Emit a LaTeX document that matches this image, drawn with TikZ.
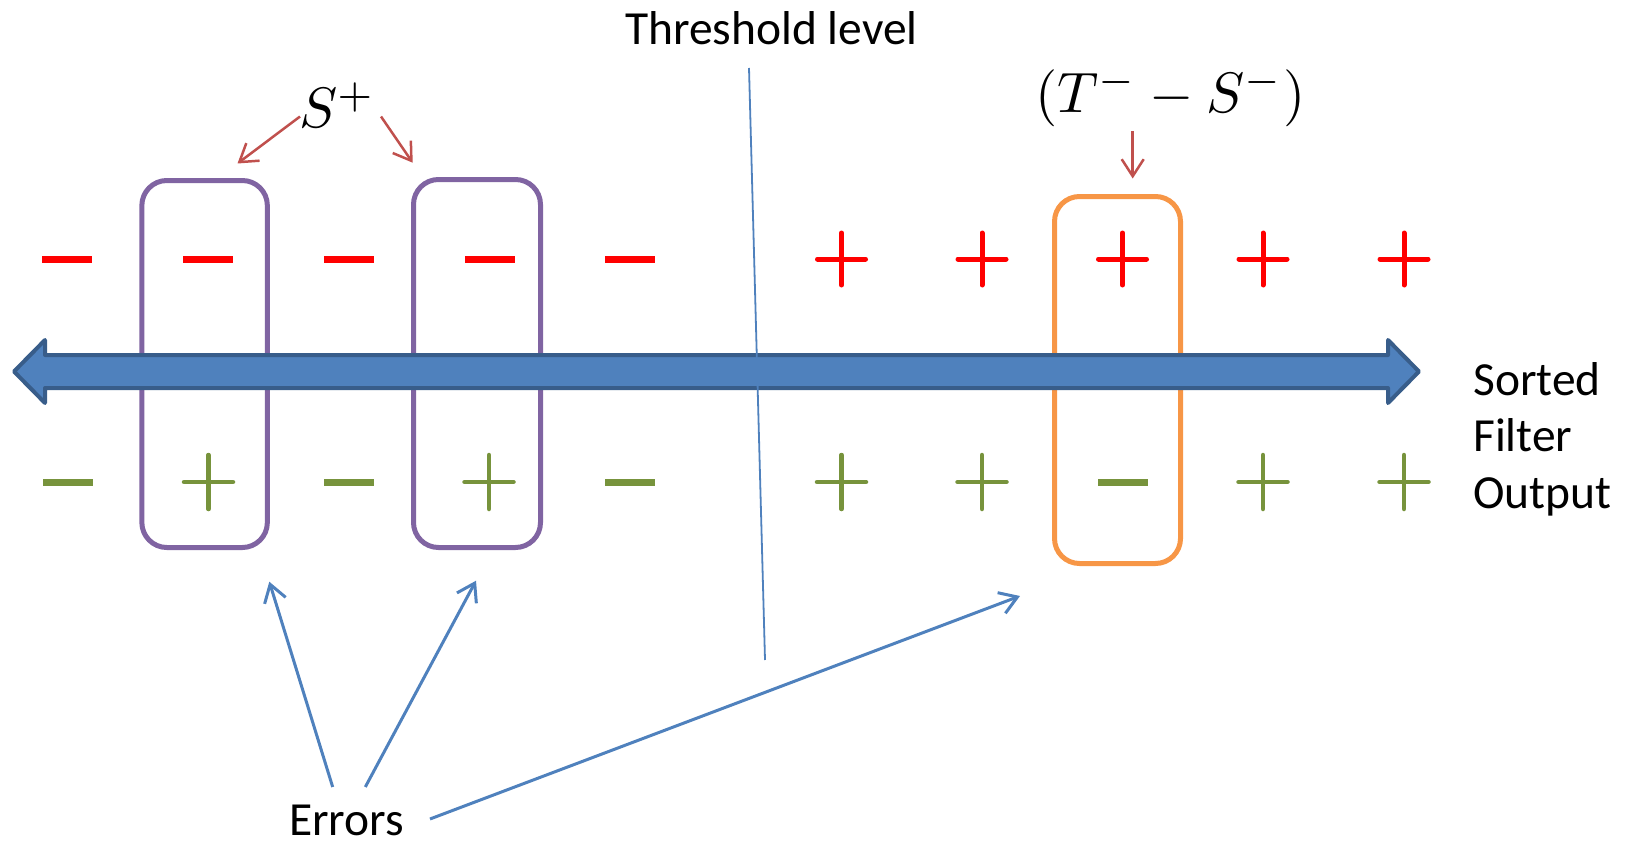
\documentclass[tikz,border=0pt]{standalone}
\usepackage{graphicx}
\usepackage[no-math]{fontspec}
\setmainfont{Carlito}
\usetikzlibrary{arrows.meta}
\definecolor{boxpurple}{HTML}{8064A2}
\definecolor{boxorange}{HTML}{F79646}
\definecolor{bandfill}{HTML}{4F81BD}
\definecolor{bandedge}{HTML}{385D8A}
\definecolor{arrred}{HTML}{C0504D}
\definecolor{arrblue}{HTML}{4F81BD}
\definecolor{signred}{HTML}{FF0000}
\definecolor{signgreen}{HTML}{77933C}
\tikzset{
  purplebox/.style={draw=boxpurple, line width=5pt, rounded corners=25pt, inner sep=0pt},
  orangebox/.style={draw=boxorange, line width=5pt, rounded corners=25pt, inner sep=0pt},
  label/.style={font=\fontsize{47.5}{56.5}\selectfont, inner sep=0pt, anchor=base west, text=black},
  mathlabel/.style={inner sep=0pt, anchor=base west},
  redarrow/.style={draw=arrred, line width=2.5pt, -{Straight Barb[length=17pt,width=22pt]}},
  bluearrow/.style={draw=arrblue, line width=3pt, -{Straight Barb[length=17pt,width=22pt]}},
  rminus/.pic={\fill[signred] (-25,-3.5) rectangle (25,3.5);},
  gminus/.pic={\fill[signgreen] (-25,-3.5) rectangle (25,3.5);},
  rplus/.pic={\draw[signred, line width=5pt, line cap=round] (-24,0) -- (24,0) (0,-26) -- (0,26);},
  gplus/.pic={\draw[signgreen, line width=4.5pt, line cap=round] (-24.5,0) -- (24.5,0) (0,-27) -- (0,27);}
}
\begin{document}
\begin{tikzpicture}[x=1pt,y=-1pt]
\useasboundingbox (0,0) rectangle (1633,848);
% boxes
\node[purplebox, minimum width=125.5pt, minimum height=367pt] (b1) at (204.6,364) {};
\node[purplebox, minimum width=127pt, minimum height=368pt] (b2) at (477,363.5) {};
\node[orangebox, minimum width=126pt, minimum height=367pt] (b3) at (1117.5,380) {};
% top row
\pic (t1) at (67,259.5) {rminus};
\pic (t2) at (208,259.5) {rminus};
\pic (t3) at (349,259.5) {rminus};
\pic (t4) at (490,259.5) {rminus};
\pic (t5) at (630,259.5) {rminus};
\pic (t6) at (841.5,259) {rplus};
\pic (t7) at (982,259) {rplus};
\pic (t8) at (1122.5,259) {rplus};
\pic (t9) at (1263,259) {rplus};
\pic (t10) at (1404,259) {rplus};
% bottom row
\pic (u1) at (68,482.5) {gminus};
\pic (u2) at (208.5,482) {gplus};
\pic (u3) at (349,482.5) {gminus};
\pic (u4) at (489,482) {gplus};
\pic (u5) at (630,482.5) {gminus};
\pic (u6) at (841.5,482) {gplus};
\pic (u7) at (982,482) {gplus};
\pic (u8) at (1123,482.5) {gminus};
\pic (u9) at (1263,482) {gplus};
\pic (u10) at (1404,482) {gplus};
% double block arrow
\filldraw[fill=bandfill, draw=bandedge, line width=4pt, line join=round]
  (14,371.5) -- (45,340) -- (45,355) -- (1388,355) -- (1388,340) -- (1419,371.5)
  -- (1388,403) -- (1388,388) -- (45,388) -- (45,403) -- cycle;
% threshold
\node[label] (thr) at (625,45) {Threshold level};
\coordinate (th1) at (749,68);
\coordinate (th2) at (765,660);
\draw[arrblue, line width=1.8pt] (th1) -- (th2);
% S+
\node[mathlabel] (splus) at (299,128) {\scalebox{5.7}{$S^{+}$}};
\coordinate (sa1) at (300,116.5);
\coordinate (sa2) at (381,116.5);
\coordinate (sb1) at (237.5,163.5);
\coordinate (sb2) at (412.7,162.7);
\draw[redarrow] (sa1) -- (sb1);
\draw[redarrow] (sa2) -- (sb2);
% T- - S-
\node[mathlabel] (ts) at (1035,113) {\scalebox{5.7}{$(T^{-}-S^{-})$}};
\coordinate (ta) at (1132.7,131.5);
\coordinate (tb) at (1132.7,178.5);
\draw[redarrow] (ta) -- (tb);
% Sorted filter output
\node[label] (sorted) at (1473,395) {Sorted};
\node[label] (filter) at (1473,451) {Filter};
\node[label] (output) at (1473,508) {Output};
% Errors
\node[label] (errors) at (289,835) {Errors};
\coordinate (e1) at (332.7,787);
\coordinate (e2) at (365.3,787);
\coordinate (e3) at (430,819);
\coordinate (f1) at (269.3,581.7);
\coordinate (f2) at (476,580.7);
\coordinate (f3) at (1020,596);
\draw[bluearrow] (e1) -- (f1);
\draw[bluearrow] (e2) -- (f2);
\draw[bluearrow] (e3) -- (f3);
\end{tikzpicture}
\end{document}
